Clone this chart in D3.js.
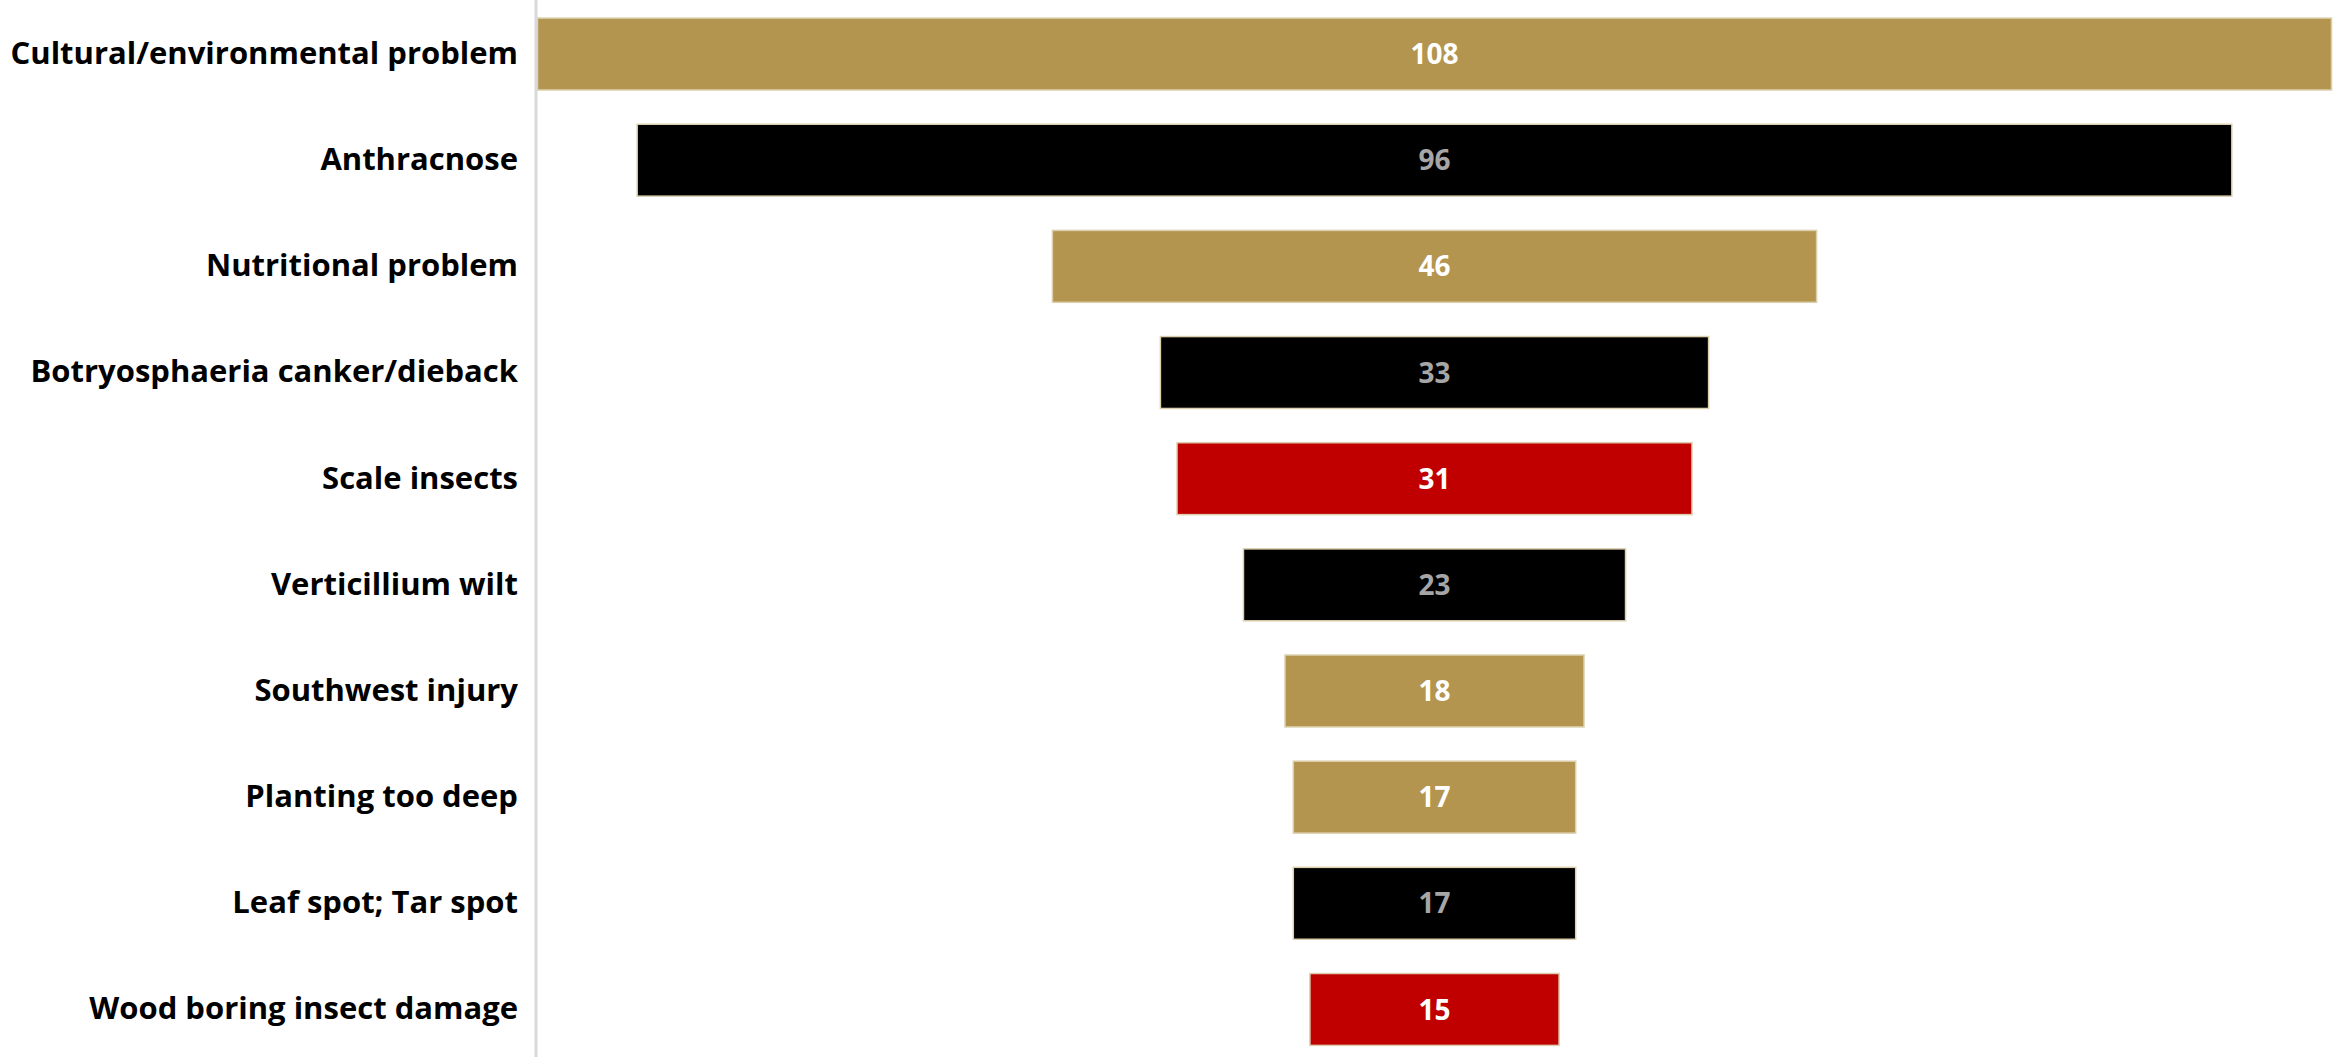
<!DOCTYPE html>
<html>
<head>
<meta charset="utf-8">
<script src="https://cdn.jsdelivr.net/npm/d3@7"></script>
<style>
  body { margin: 0; background: #fff; }
  svg { display: block; }
</style>
</head>
<body>
<script>
// funnel of tree problems, biggest on top

var categories = [
  "Cultural/environmental problem",
  "Anthracnose",
  "Nutritional problem",
  "Botryosphaeria canker/dieback",
  "Scale insects",
  "Verticillium wilt",
  "Southwest injury",
  "Planting too deep",
  "Leaf spot; Tar spot",
  "Wood boring insect damage"
];
var counts = [108, 96, 46, 33, 31, 23, 18, 17, 17, 15];
var groups = ["gold", "black", "gold", "black", "red", "black", "gold", "gold", "black", "red"];

var W = 2348, H = 1057;
var axisX = 536;        // left edge of the plot area
var centerX = 1434.5;   // funnel centre line

var fills = {gold: "#b3954f", black: "#000000", red: "#c00000"};
var labelFills = {gold: "#ffffff", black: "#a6a6a6", red: "#ffffff"};

var svg = d3.select("body").append("svg")
  .attr("width", W)
  .attr("height", H);

var y = d3.scaleBand()
  .domain(categories)
  .range([1, 1062.5])
  .paddingInner(0.3227)
  .paddingOuter(0.161);

var w = d3.scaleLinear()
  .domain([0, 108])
  .range([0, 1794]);

var rows = categories.map(function(c, i){
  return {name: c, value: counts[i], group: groups[i]};
});

// bars
svg.selectAll("rect.bar")
  .data(rows)
  .enter()
  .append("rect")
  .attr("class", "bar")
  .attr("x", function(d){ return centerX - w(d.value) / 2; })
  .attr("y", function(d){ return y(d.name); })
  .attr("width", function(d){ return w(d.value); })
  .attr("height", y.bandwidth())
  .style("fill", function(d){ return fills[d.group]; })
  .style("stroke", "#dccfae")
  .style("stroke-width", 1.5);

// value labels in the bars
svg.selectAll("text.val")
  .data(rows)
  .enter()
  .append("text")
  .attr("class", "val")
  .attr("x", centerX)
  .attr("y", function(d){ return y(d.name) + y.bandwidth() / 2; })
  .attr("dy", "0.36em")
  .attr("text-anchor", "middle")
  .style("font-family", "'Open Sans', 'Noto Sans', sans-serif")
  .style("font-weight", 700)
  .style("font-size", "28px")
  .style("fill", function(d){ return labelFills[d.group]; })
  .text(function(d){ return d.value; });

// category axis, no ticks, just the grey line
var yAxis = d3.axisLeft(y).tickSize(0).tickPadding(18);
var gAxis = svg.append("g")
  .attr("transform", "translate(" + axisX + ",0)")
  .call(yAxis);

gAxis.select(".domain")
  .attr("d", "M0,0V" + H)
  .style("stroke", "#d9d9d9")
  .style("stroke-width", 3);

gAxis.selectAll("text")
  .style("font-family", "'Open Sans', 'Noto Sans', sans-serif")
  .style("font-weight", 700)
  .style("font-size", "31px")
  .style("fill", "#000");
</script>
</body>
</html>
